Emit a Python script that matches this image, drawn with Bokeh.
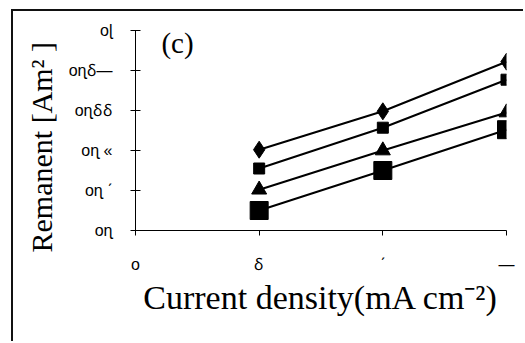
from bokeh.plotting import figure
from bokeh.models import FixedTicker, Label, Title
from bokeh.embed import file_html
from bokeh.resources import INLINE

# data
current_density = [1, 2, 3]
series_diamond = [2.02, 2.98, 4.22]
series_square_small = [1.55, 2.57, 3.77]
series_triangle = [1.02, 2.0, 2.95]
series_square_big = [0.5, 1.5, 2.52]

x_ticks = [0, 1, 2, 3]
x_tick_labels = ["o", "ẟ", "ˊ", "—"]
y_ticks = [0, 1, 2, 3, 4, 5]
y_tick_labels = ["oɳ", "oɳ ˊ", "oɳ «", "oɳẟẟ", "oɳẟ—", "oɭ"]
x_title = "Current density(mA cm⁻²)"
y_title = "Remanent [Am² ]"
panel_tag = "(c)"

p = figure(width=512, height=332, output_backend="svg", toolbar_location=None,
           x_range=(0, 3), y_range=(0, 5),
           min_border_left=122, min_border_right=19, min_border_top=19, min_border_bottom=113)
p.margin = (9, 0, 0, 11)
p.styles = {"border-top": "2px solid #111", "border-left": "2px solid #111"}
p.outline_line_color = None
p.grid.visible = False
p.background_fill_color = "white"
p.border_fill_color = "white"

serif = "Liberation Serif"
sans = "Liberation Sans"

for ax in (p.xaxis[0], p.yaxis[0]):
    ax.axis_line_color = "black"
    ax.axis_line_width = 1
    ax.major_tick_line_color = "black"
    ax.minor_tick_line_color = None
    ax.major_label_text_font = sans
    ax.major_label_text_font_size = "16px"
    ax.major_label_text_color = "black"
    ax.axis_label_text_font = serif
    ax.axis_label_text_font_style = "normal"
    ax.axis_label_text_color = "black"

p.xaxis.ticker = FixedTicker(ticks=x_ticks)
p.xaxis.major_label_overrides = {t: l for t, l in zip(x_ticks, x_tick_labels)}
p.xaxis.major_tick_in = 0
p.xaxis.major_tick_out = 5
p.xaxis.major_label_standoff = 20
p.xaxis.axis_label = x_title
p.xaxis.axis_label_text_font_size = "34px"
p.xaxis.axis_label_standoff = 3

p.yaxis.ticker = FixedTicker(ticks=y_ticks)
p.yaxis.major_label_overrides = {t: l for t, l in zip(y_ticks, y_tick_labels)}
p.yaxis.major_tick_in = 5
p.yaxis.major_tick_out = 5
p.yaxis.major_label_standoff = 18

lw = 2
p.line(current_density, series_diamond, color="black", line_width=lw)
p.scatter(current_density, series_diamond, marker="diamond", size=17, color="black")
p.line(current_density, series_square_small, color="black", line_width=lw)
p.scatter(current_density, series_square_small, marker="square", size=11, color="black")
p.line(current_density, series_triangle, color="black", line_width=lw)
p.scatter(current_density, series_triangle, marker="triangle", size=15, color="black")
p.line(current_density, series_square_big, color="black", line_width=lw)
p.scatter(current_density, series_square_big, marker="square", size=18, color="black")

p.add_layout(Title(text=y_title, align="left", offset=-22, standoff=15,
                   text_font=serif, text_font_size="30px", text_font_style="normal",
                   text_color="black"), "left")

p.add_layout(Label(x=0.34, y=4.68, text=panel_tag, text_font=serif, text_font_size="29px",
                   text_align="center", text_baseline="middle", text_color="black"))

open("out.html", "w").write(file_html(p, INLINE))
